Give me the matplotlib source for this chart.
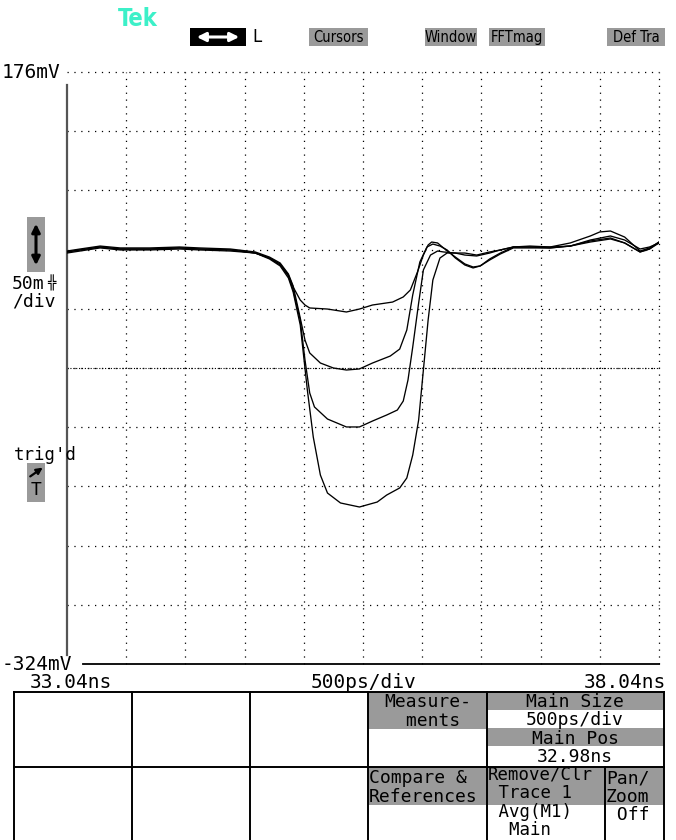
import matplotlib
matplotlib.use('Agg')
from matplotlib import pyplot as plt
from matplotlib.patches import Rectangle, FancyArrowPatch
from matplotlib.lines import Line2D

W, H = 676, 840

# screen scale
t_start, t_stop, t_div = 33.04, 38.04, 0.5     # ns
v_top, v_bottom, v_div = 176, -324, 50         # mV
ref_level = -74                                 # dense dotted marker

# averaged pulse traces (time in ns, level in mV)
trace_a_t = [33.04, 33.15, 33.32, 33.49, 33.74, 33.99, 34.16, 34.42, 34.63, 34.75,
             34.84, 34.91, 34.95, 35.01, 35.05, 35.09, 35.24, 35.40, 35.51, 35.62,
             35.79, 35.88, 35.94, 36.00, 36.05, 36.09, 36.12, 36.17, 36.22, 36.32,
             36.40, 36.47, 36.53, 36.61, 36.70, 36.81, 36.95, 37.12, 37.29, 37.46,
             37.63, 37.75, 37.88, 37.96, 38.04]
trace_a_mv = [24.0, 25.7, 28.2, 26.5, 26.5, 27.4, 26.5, 25.7, 23.1, 18.9,
              13.9, 4.5, -5.6, -16.6, -20.8, -23.3, -24.2, -26.7, -24.2, -20.8,
              -18.3, -14.0, -8.1, 7.1, 21.4, 29.9, 32.4, 31.6, 27.4, 19.7,
              13.9, 11.3, 12.2, 17.2, 22.3, 27.4, 27.4, 27.4, 29.0, 34.1,
              37.5, 34.1, 26.5, 28.2, 31.6]

trace_b_t = [33.04, 33.15, 33.32, 33.49, 33.74, 33.99, 34.16, 34.42, 34.63, 34.75,
             34.84, 34.91, 34.95, 35.01, 35.05, 35.09, 35.18, 35.29, 35.40, 35.51,
             35.62, 35.77, 35.85, 35.91, 35.96, 36.02, 36.08, 36.13, 36.19, 36.25,
             36.32, 36.40, 36.47, 36.53, 36.61, 36.70, 36.81, 36.95, 37.12, 37.29,
             37.46, 37.54, 37.63, 37.75, 37.88, 37.96, 38.04]
trace_b_mv = [24.8, 26.5, 29.0, 27.4, 27.4, 28.2, 27.4, 26.5, 24.0, 19.7,
              14.7, 5.4, -4.7, -31.8, -50.4, -61.3, -69.8, -74.0, -75.7, -74.8,
              -69.8, -63.9, -58.0, -41.9, -12.3, 15.5, 28.2, 30.7, 29.0, 25.7,
              18.9, 13.0, 10.5, 12.2, 18.1, 23.1, 28.2, 29.0, 28.2, 31.6,
              37.5, 40.9, 41.7, 36.6, 24.8, 27.4, 32.4]

trace_c_t = [33.04, 33.15, 33.32, 33.49, 33.74, 33.99, 34.16, 34.42, 34.63, 34.75,
             34.84, 34.91, 34.95, 35.01, 35.05, 35.09, 35.13, 35.24, 35.40, 35.51,
             35.62, 35.74, 35.83, 35.88, 35.92, 35.96, 36.01, 36.05, 36.11, 36.17,
             36.22, 36.32, 36.40, 36.50, 36.61, 36.70, 36.81, 36.95, 37.12, 37.29,
             37.46, 37.63, 37.75, 37.88, 37.96, 38.04]
trace_c_mv = [23.1, 24.8, 27.4, 25.7, 25.7, 26.5, 25.7, 24.8, 23.1, 18.9,
              13.0, 3.7, -8.1, -33.5, -67.2, -95.1, -106.9, -117.1, -123.8, -123.8,
              -118.8, -113.7, -109.5, -101.9, -84.1, -56.3, -19.1, 8.8, 21.4, 24.8,
              24.0, 23.1, 23.1, 21.4, 24.0, 25.7, 28.2, 28.2, 28.2, 29.0,
              32.4, 35.0, 31.6, 24.0, 26.5, 31.6]

trace_d_t = [33.04, 33.15, 33.32, 33.49, 33.74, 33.99, 34.16, 34.42, 34.63, 34.75,
             34.84, 34.91, 34.95, 35.01, 35.07, 35.12, 35.18, 35.24, 35.35, 35.51,
             35.66, 35.74, 35.85, 35.91, 35.96, 36.01, 36.05, 36.09, 36.13, 36.19,
             36.25, 36.32, 36.40, 36.50, 36.61, 36.70, 36.81, 36.95, 37.12, 37.29,
             37.46, 37.63, 37.75, 37.88, 37.96, 38.04]
trace_d_mv = [24.0, 25.7, 28.2, 26.5, 26.5, 27.4, 26.5, 25.7, 23.1, 18.1,
              12.2, 2.0, -9.8, -37.7, -92.6, -132.3, -164.4, -179.6, -188.0, -191.4,
              -187.2, -181.3, -175.3, -166.9, -147.5, -117.9, -75.7, -33.5, 0.3, 18.9,
              23.1, 23.1, 21.4, 20.6, 23.1, 25.7, 28.2, 28.2, 27.4, 29.0,
              33.3, 35.8, 31.6, 24.0, 26.5, 32.4]

traces = [(trace_a_t, trace_a_mv), (trace_b_t, trace_b_mv),
          (trace_c_t, trace_c_mv), (trace_d_t, trace_d_mv)]

top_buttons = ['Cursors', 'Window', 'FFTmag', 'Def Tra']
top_x = [(309, 368), (425, 477), (489, 545), (607, 665)]

# softkey labels, one block per key
key_measure = ['Measure-', ' ments']
key_main = ['Main Size', '500ps/div', 'Main Pos', '32.98ns']
key_compare = ['Compare &', 'References']
key_remove = ['Remove/Clr', ' Trace 1', ' Avg(M1)', '  Main']
key_pan = ['Pan/', 'Zoom', ' Off']

GRAY = '#9a9a9a'
MONO = 'DejaVu Sans Mono'


def fx(x):
    return x / W


def fy(y):
    return 1 - y / H


def box(x0, x1, y0, y1, color, z=1):
    fig.add_artist(Rectangle((fx(x0), fy(y1)), (x1 - x0) / W, (y1 - y0) / H,
                             transform=fig.transFigure, facecolor=color,
                             edgecolor='none', zorder=z))


def arrow(p0, p1, style, color, lw, ms):
    fig.add_artist(FancyArrowPatch((fx(p0[0]), fy(p0[1])), (fx(p1[0]), fy(p1[1])),
                                   transform=fig.transFigure, arrowstyle=style,
                                   mutation_scale=ms, color=color, lw=lw, zorder=5))


fig = plt.figure(figsize=(W / 100, H / 100), dpi=100)
fig.patch.set_facecolor('white')

# graticule
ax = fig.add_axes([fx(67), fy(664), 592 / W, 592 / H])
ax.set_xlim(t_start, t_stop)
ax.set_ylim(v_bottom, v_top)
ax.axis('off')

for k in range(1, 11):
    ax.axvline(t_start + k * t_div, color='black', lw=0.9, ls=(0, (1, 4.5)), clip_on=False)
for k in range(0, 10):
    ax.axhline(v_top - k * v_div, color='black', lw=0.9, ls=(0, (1, 4.5)), clip_on=False)
ax.axhline(ref_level, color='black', lw=0.8, ls=(0, (1, 1.6)))

# solid left / bottom edges
ax.add_line(Line2D([0, 0], [0.015, 0.978], transform=ax.transAxes, color='#555555', lw=1.6, clip_on=False))
ax.add_line(Line2D([0.027, 1], [0, 0], transform=ax.transAxes, color='black', lw=1.3, clip_on=False))

for t, mv in traces:
    ax.plot(t, mv, color='black', lw=0.95)

# scale labels
fig.text(fx(2), fy(72), '%dmV' % v_top, fontsize=14, family=MONO, va='center', ha='left')
fig.text(fx(2), fy(664), '%dmV' % v_bottom, fontsize=14, family=MONO, va='center', ha='left')
fig.text(fx(30), fy(683), '%.2fns' % t_start, fontsize=14, family=MONO, va='center', ha='left')
fig.text(fx(363), fy(683), '%dps/div' % int(t_div * 1000), fontsize=14, family=MONO, va='center', ha='center')
fig.text(fx(666), fy(683), '%.2fns' % t_stop, fontsize=14, family=MONO, va='center', ha='right')

# header
fig.text(fx(138), fy(19), 'Tek', fontsize=17, weight='bold', color='#3cf0c8',
         family='DejaVu Sans', fontstretch='condensed', ha='center', va='center')
box(190, 246, 28, 46, 'black')
arrow((194, 37), (242, 37), '<|-|>', 'white', 2.2, 13)
fig.text(fx(252), fy(37), 'L', fontsize=12, family='DejaVu Sans', va='center', ha='left')

for label, (x0, x1) in zip(top_buttons, top_x):
    box(x0, x1, 28, 46, GRAY)
    fig.text(fx((x0 + x1) / 2), fy(37.5), label, fontsize=10.5, family='DejaVu Sans',
             fontstretch='condensed', va='center', ha='center')

# vertical scale indicator
box(27, 45, 217, 272, GRAY)
arrow((36, 221), (36, 268), '<|-|>', 'black', 2.2, 12)
fig.text(fx(12), fy(284), '50m', fontsize=13, family=MONO, va='center', ha='left')
fig.text(fx(47), fy(283), '╬', fontsize=10, family=MONO, va='center', ha='left', weight='bold')
fig.text(fx(12), fy(302), '/div', fontsize=13, family=MONO, va='center', ha='left')

# trigger indicator
fig.text(fx(14), fy(455), "trig'd", fontsize=12.5, family=MONO, va='center', ha='left')
box(27, 45, 463, 502, GRAY)
arrow((28, 478), (45, 466), '-|>', 'black', 1.6, 9)
fig.text(fx(36), fy(490), 'T', fontsize=13, family=MONO, va='center', ha='center')

# softkey menu
gray_cells = [(368, 487, 692, 729), (487, 664, 692, 710), (487, 664, 728, 746),
              (368, 487, 767, 805), (487, 605, 767, 805), (605, 664, 767, 805)]
for x0, x1, y0, y1 in gray_cells:
    box(x0, x1, y0, y1, GRAY)

menu_lines = [([14, 664], [692, 692]), ([14, 664], [766.5, 766.5])]
for xv in [14, 132, 250, 368, 487, 664]:
    menu_lines.append(([xv, xv], [692, 840]))
menu_lines.append(([605, 605], [766.5, 840]))
for xs, ys in menu_lines:
    fig.add_artist(Line2D([fx(v) for v in xs], [fy(v) for v in ys], transform=fig.transFigure,
                          color='black', lw=1.4))

# (lines, x, first-line centre y, alignment, font size, line pitch px)
key_blocks = [
    (key_measure, 428, 701, 'center', 13, 18.5),
    (key_main, 575, 701, 'center', 13, 18.3),
    (key_compare, 369, 777, 'left', 13, 19),
    (key_remove, 488, 776, 'left', 12.5, 17.7),
    (key_pan, 606, 777, 'left', 13, 18.5),
]
for lines, x, y, ha, fs, pitch in key_blocks:
    # 'baseline' anchors the last line of a multi-line text
    y_base = y + (len(lines) - 1) * pitch + fs / 2
    spacing = pitch / (17.7 * fs / 13)
    fig.text(fx(x), fy(y_base), '\n'.join(lines), fontsize=fs, family=MONO,
             va='baseline', ha=ha, multialignment=ha, linespacing=spacing)

fig.savefig('out.png', dpi=100, facecolor='white')
